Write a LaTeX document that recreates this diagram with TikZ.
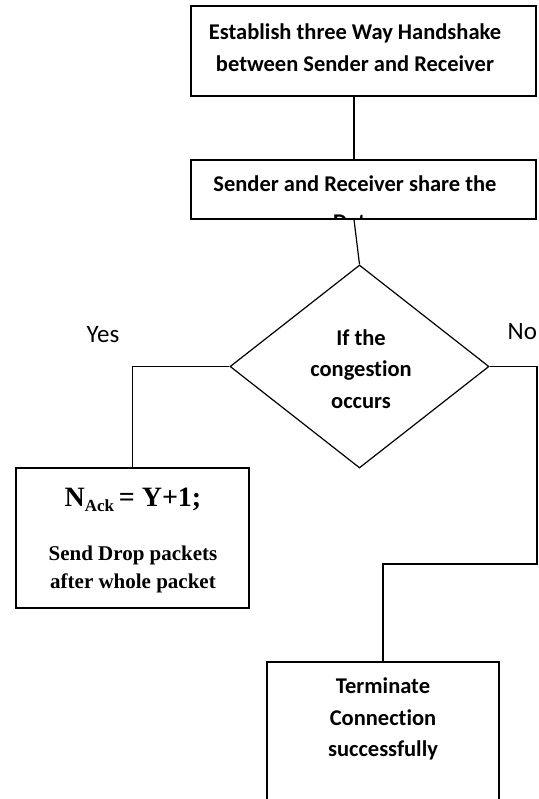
\documentclass[tikz,border=0pt]{standalone}
\usepackage{fontspec}
\usetikzlibrary{shapes.geometric}
\newfontfamily\calfont[Ligatures=NoCommon]{Carlito}
\newfontfamily\tmsfont{Liberation Serif}
\begin{document}
\begin{tikzpicture}[x=1pt,y=-1pt,
  line width=1.2pt,
  boxshape/.style={draw, rectangle, inner sep=0pt},
  caltxt/.style={font=\calfont\bfseries\fontsize{22.5}{31.5}\selectfont, align=center, inner sep=0pt},
  tmstxt/.style={font=\tmsfont\bfseries\fontsize{21}{28}\selectfont, align=center, inner sep=0pt},
  lbl/.style={font=\calfont\fontsize{25}{28}\selectfont, inner sep=0pt}]
\useasboundingbox (0,0) rectangle (538,799);
% boxes
\node[boxshape, minimum width=345pt, minimum height=90pt] (box1) at (363.5,51) {};
\node[boxshape, minimum width=345pt, minimum height=59pt] (box2) at (363.5,189.5) {};
\node[draw, diamond, minimum width=259pt, minimum height=203pt, inner sep=0pt] (dia) at (359.5,366.5) {};
\node[boxshape, minimum width=233pt, minimum height=140pt] (box3) at (132.5,538) {};
\node[boxshape, minimum width=232pt, minimum height=180pt] (box4) at (383,752) {};
% texts
\node[caltxt] (t1) at (355,47.5) {Establish three Way Handshake\\between Sender and Receiver};
\begin{scope}
  \clip (192,161) rectangle (535,218.4);
  \node[caltxt, font=\calfont\bfseries\fontsize{22.5}{38}\selectfont, anchor=north] (t2) at (355,175.5) {Sender and Receiver share the\\Data};
\end{scope}
\node[caltxt] (t3) at (361,369) {If the\\congestion\\occurs};
\node[tmstxt, font=\tmsfont\bfseries\fontsize{28}{30}\selectfont] (t4) at (133,500) {N\raisebox{-5pt}{\fontsize{17}{17}\selectfont Ack}\,= Y+1;};
\node[tmstxt] (t5) at (133,569) {Send Drop packets\\after whole packet};
\node[caltxt] (t6) at (383,719) {Terminate\\Connection\\successfully};
\node[lbl] (yes) at (103,335) {Yes};
\node[lbl, anchor=west] (no) at (507,332) {No};
% connectors
\coordinate (c1) at (537,564);
\draw ([xshift=-9.5pt]box1.south) -- ([xshift=-9.5pt]box2.north);
\draw ([xshift=-9.5pt]box2.south) -- (dia.north);
\draw (dia.west) -| (box3.north);
\draw (dia.east) -| (c1) -| (box4.north);
\end{tikzpicture}
\end{document}
